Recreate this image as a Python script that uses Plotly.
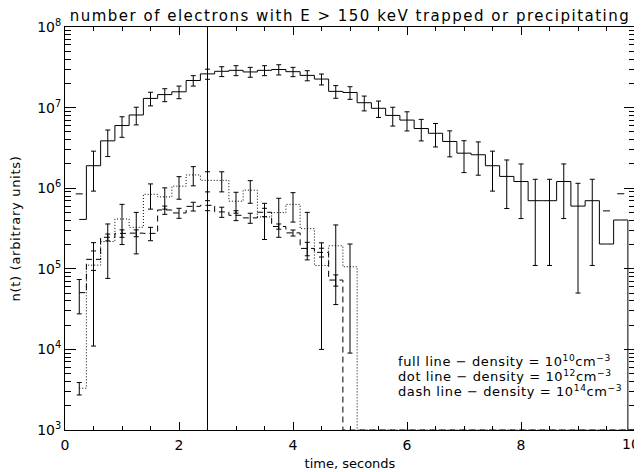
import numpy as np
import plotly.graph_objects as go

# ---------------- data ----------------
TIME = [0.25, 0.5, 0.75, 1.0, 1.25, 1.5, 1.75, 2.0, 2.25, 2.5,
        2.75, 3.0, 3.25, 3.5, 3.75, 4.0, 4.25, 4.5, 4.75, 5.0,
        5.25, 5.5, 5.75, 6.0, 6.25, 6.5, 6.75, 7.0, 7.25, 7.5,
        7.75, 8.0, 8.25, 8.5, 8.75, 9.0, 9.25, 9.5, 9.75, 10.0]

# density 1e10 cm^-3 (full line)
N_FULL = [4.1e5, 1.9e6, 3.87e6, 5.99e6, 8.1e6, 1.30e7, 1.45e7, 1.57e7, 2.17e7, 2.62e7,
          2.82e7, 2.90e7, 2.77e7, 2.90e7, 2.97e7, 2.79e7, 2.51e7, 2.26e7, 1.59e7, 1.54e7,
          1.15e7, 9.8e6, 8.0e6, 7.0e6, 5.5e6, 4.8e6, 3.8e6, 2.72e6, 2.6e6, 1.9e6,
          1.4e6, 1.21e6, 7.0e5, 7.0e5, 1.21e6, 6.0e5, 7.0e5, 2.03e5, 4.03e5, 0.0]
ERR_FULL = [4.4e5, 9.8e5, 1.4e6, 1.71e6, 2.0e6, 2.5e6, 2.65e6, 2.8e6, 3.2e6, 3.75e6,
            3.95e6, 4.1e6, 3.9e6, 4.1e6, 4.3e6, 3.7e6, 3.6e6, 3.5e6, 2.85e6, 2.75e6,
            2.4e6, 2.25e6, 2.1e6, 1.87e6, 1.64e6, 1.55e6, 1.35e6, 1.16e6, 1.15e6, 9.8e5,
            8.4e5, 7.9e5, 5.9e5, 5.9e5, 7.9e5, 5.5e5, 5.9e5, 3.2e5, 4.5e5, 0.0]

# density 1e12 cm^-3 (dotted line)
N_DOT = [3.3e3, 1.11e5, 2.18e5, 4.15e5, 3.27e5, 8.4e5, 7.8e5, 1.06e6, 1.46e6, 1.25e6,
         1.25e6, 6.9e5, 9.45e5, 4.4e5, 4.98e5, 6.3e5, 3.15e5, 1.1e5, 1.93e5, 1.06e5,
         0, 0, 0, 0, 0, 0, 0, 0, 0, 0,
         0, 0, 0, 0, 0, 0, 0, 0, 0, 0]
ERR_DOT = [5.8e2, 1.0e5, 1.42e5, 2.15e5, 1.74e5, 2.9e5, 2.3e5, 3.3e5, 3.9e5, 3.5e5,
           3.5e5, 2.0e5, 2.95e5, 2.09e5, 2.52e5, 2.5e5, 1.86e5, 1.0e5, 1.57e5, 9.7e4,
           0, 0, 0, 0, 0, 0, 0, 0, 0, 0,
           0, 0, 0, 0, 0, 0, 0, 0, 0, 0]

# density 1e14 cm^-3 (dashed line)
N_DASH = [5.06e4, 1.31e5, 2.46e5, 2.75e5, 2.77e5, 2.75e5, 5.37e5, 4.93e5, 5.95e5, 6.13e5,
          5.08e5, 4.61e5, 4.28e5, 5.03e5, 3.35e5, 2.79e5, 1.79e5, 1.6e5, 7.25e4, 0,
          0, 0, 0, 0, 0, 0, 0, 0, 0, 0,
          0, 0, 0, 0, 0, 0, 0, 0, 0, 0]
ERR_DASH = [2.3e4, 3.55e4, 2.4e4, 2.9e4, 2.7e4, 5.2e4, 6.3e4, 7.0e4, 7.4e4, 8.7e4,
            7.3e4, 6.5e4, 6.1e4, 6.0e4, 2.5e4, 2.4e4, 3.4e4, 2.0e4, 1.15e4, 0,
            0, 0, 0, 0, 0, 0, 0, 0, 0, 0,
            0, 0, 0, 0, 0, 0, 0, 0, 0, 0]

MARK_TIME = 2.5
X_TICKS = [0, 2, 4, 6, 8, 10]
X_TICK_LABELS = ["0", "2", "4", "6", "8", "10"]
Y_TICKS = [1e3, 1e4, 1e5, 1e6, 1e7, 1e8]
Y_TICK_LABELS = ["10<sup>3</sup>", "10<sup>4</sup>", "10<sup>5</sup>",
                 "10<sup>6</sup>", "10<sup>7</sup>", "10<sup>8</sup>"]
TITLE = "number of electrons with E > 150 keV trapped or precipitating"
X_TITLE = "time, seconds"
Y_TITLE = "n(t) (arbitrary units)"
NOTES = ["full line \u2212 density = 10<sup>10</sup>cm<sup>\u22123</sup>",
         "dot line \u2212 density = 10<sup>12</sup>cm<sup>\u22123</sup>",
         "dash line \u2212 density = 10<sup>14</sup>cm<sup>\u22123</sup>"]

# ---------------- figure ----------------
YMIN, YMAX = 1e3, 1e8
FONT = "DejaVu Sans"
# the page body adds an 8px offset; size the figure so the plot frame lands
# where the reference has it
FIG_W, FIG_H = 634, 464


def spaced(s, ls):
    return '<span style="letter-spacing:%spx">%s</span>' % (ls, s)


fig = go.Figure()


def add_series(t, n, err, dash):
    t = np.asarray(t, float)
    n = np.asarray(n, float)
    err = np.asarray(err, float)
    ydraw = np.where(n > 0, n, YMIN)
    fig.add_trace(go.Scatter(x=t, y=ydraw, mode="lines",
                             line=dict(shape="hvh", color="black", width=1, dash=dash),
                             hoverinfo="skip", showlegend=False))
    bar = (n > 0) & (err < n)
    fig.add_trace(go.Scatter(x=t[bar], y=n[bar], mode="markers",
                             marker=dict(size=1, color="rgba(0,0,0,0)"),
                             error_y=dict(type="data", array=err[bar], symmetric=True,
                                          color="black", thickness=1, width=2.5),
                             hoverinfo="skip", showlegend=False))
    cap = (n > 0) & (err >= n)
    if cap.any():
        fig.add_trace(go.Scatter(x=t[cap], y=(n + err)[cap], mode="markers",
                                 marker=dict(symbol="line-ew", size=5, color="black",
                                             line=dict(color="black", width=1)),
                                 hoverinfo="skip", showlegend=False))


add_series(TIME, N_FULL, ERR_FULL, "solid")
add_series(TIME, N_DOT, ERR_DOT, "1px,2px")
add_series(TIME, N_DASH, ERR_DASH, "6px,4px")

fig.add_shape(type="line", xref="x", yref="paper", x0=MARK_TIME, x1=MARK_TIME,
              y0=0, y1=1, line=dict(color="black", width=1))

minor_y = [k * 10 ** d for d in range(3, 8) for k in range(2, 10)]

# the last x tick label is pulled inside the page (as in the reference);
# all others are drawn by the axis itself
axis_ticktext = X_TICK_LABELS[:-1] + [""]

fig.update_layout(
    width=FIG_W, height=FIG_H,
    margin=dict(l=57, r=7, t=19, b=42, autoexpand=False),
    plot_bgcolor="white", paper_bgcolor="white",
    font=dict(family=FONT, color="black", size=14),
    title=dict(text=spaced(TITLE, 1.5), x=0.5, xref="paper", xanchor="center",
               y=1 - 7.5 / FIG_H, yref="container", yanchor="middle",
               font=dict(family=FONT, size=15, color="black")),
    xaxis=dict(range=[0, 10], tickvals=X_TICKS, ticktext=axis_ticktext,
               ticks="inside", ticklen=8,
               tickcolor="black", mirror="allticks", showline=True, linecolor="black",
               linewidth=1, showgrid=False, zeroline=False, automargin=False,
               ticklabelstandoff=2, tickfont=dict(size=14),
               minor=dict(dtick=0.5, ticks="inside", ticklen=4, tickcolor="black",
                          showgrid=False),
               title=dict(text=X_TITLE, font=dict(size=13), standoff=7)),
    yaxis=dict(type="log", range=[3, 8], tickvals=Y_TICKS, ticktext=Y_TICK_LABELS,
               ticks="inside", ticklen=11, tickcolor="black", mirror="allticks",
               showline=True, linecolor="black", linewidth=1, showgrid=False,
               zeroline=False, automargin=False,
               tickfont=dict(size=14),
               minor=dict(tickvals=minor_y, ticks="inside", ticklen=6,
                          tickcolor="black", showgrid=False),
               title=dict(text=spaced(Y_TITLE, 0.7), font=dict(size=13), standoff=20)),
)

fig.add_annotation(text=X_TICK_LABELS[-1], xref="x", yref="paper", x=X_TICKS[-1], y=0,
                   xanchor="right", yanchor="middle", xshift=7, yshift=-14,
                   showarrow=False, font=dict(family=FONT, size=14, color="black"))

note_y = [0.172, 0.134, 0.097]
for txt, yy in zip(NOTES, note_y):
    fig.add_annotation(text=spaced(txt, 0.6), xref="x", yref="paper", x=5.8, y=yy,
                       xanchor="left", yanchor="middle", showarrow=False,
                       font=dict(family=FONT, size=13, color="black"))

fig.write_html("out.html")
